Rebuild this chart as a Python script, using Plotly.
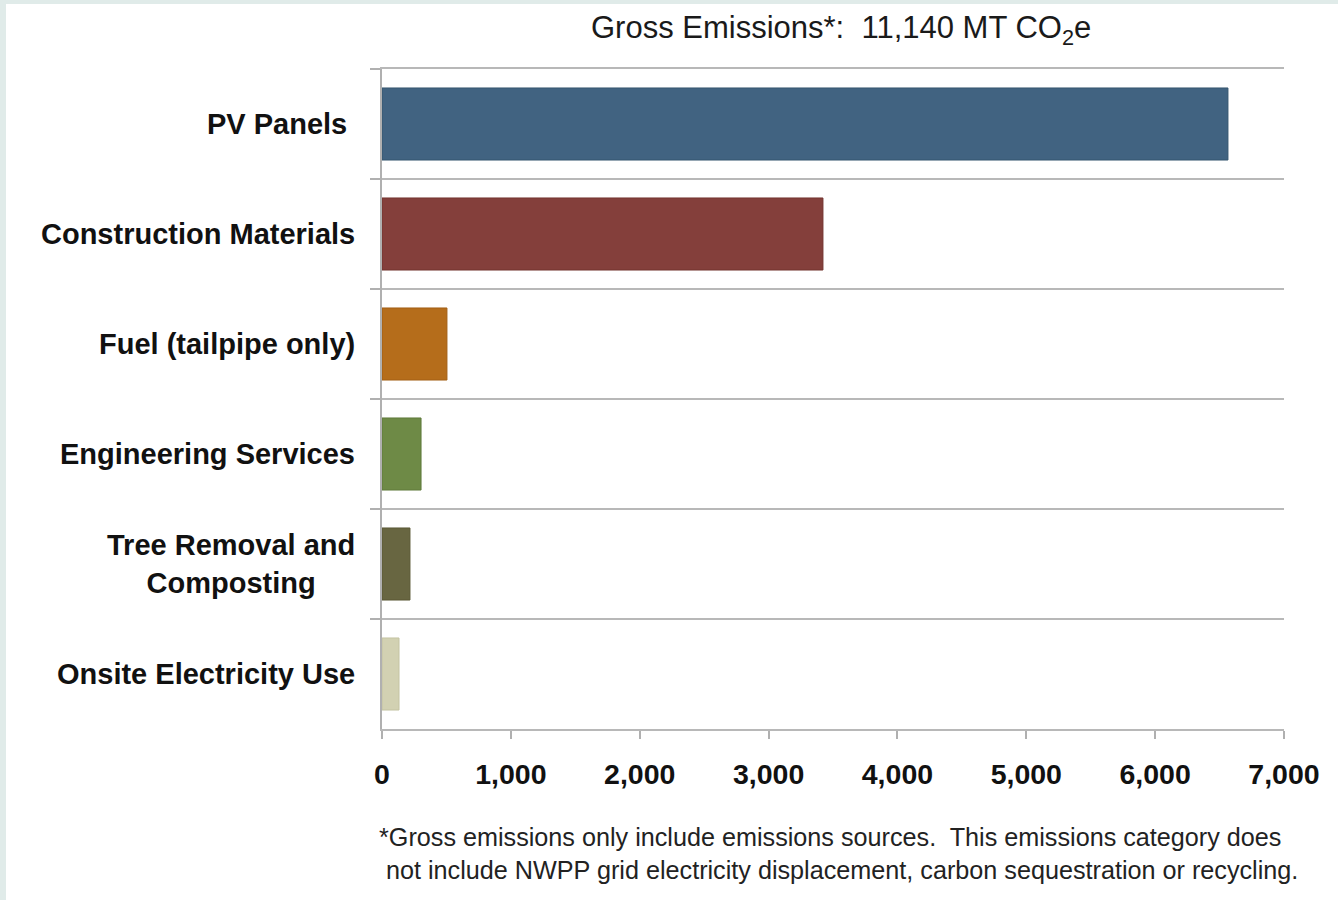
import plotly.graph_objects as go

categories = ["PV Panels", "Construction Materials", "Fuel (tailpipe only)",
              "Engineering Services", "Tree Removal and<br>Composting", "Onsite Electricity Use"]
label_texts = ["PV Panels\u00a0", "Construction Materials", "Fuel (tailpipe only)",
               "Engineering Services", "Tree Removal and<br>Composting", "Onsite Electricity Use"]
values = [6565, 3422, 504, 303, 217, 132]
colors = ["#416381", "#843f3b", "#b56d1b", "#6e8a46", "#686641", "#d2d1b2"]
line_colors = ["#35566f", "#73342f", "#a25f15", "#5f7a3a", "#5a5835", "#c4c3a2"]
x_ticks = [0, 1000, 2000, 3000, 4000, 5000, 6000, 7000]

title_text = "Gross Emissions*:  11,140 MT CO<sub>2</sub>e"
footnote_text = ("*Gross emissions only include emissions sources.  This emissions category does<br>"
                 " not include NWPP grid electricity displacement, carbon sequestration or recycling.")

W, H = 1338, 900
L, R, T, B = 382, 1338 - 1284, 69, 900 - 729
PW, PH = W - L - R, H - T - B

def px_x(p):
    return (p - L) / PW

def px_y(p):
    return (H - B - p) / PH

fig = go.Figure(go.Bar(
    y=categories, x=values, orientation="h",
    marker=dict(color=colors, line=dict(color=line_colors, width=1)),
    hoverinfo="x+y",
))

annotations = []
for cat, lab in zip(categories, label_texts):
    annotations.append(dict(
        x=px_x(357), xref="paper", xanchor="right",
        y=cat, yref="y", yanchor="middle",
        text=lab, showarrow=False, align="center",
        font=dict(family="Liberation Sans, Arial", size=29, color="#111111", weight="bold"),
    ))

annotations.append(dict(
    x=px_x(841), xref="paper", xanchor="center",
    y=px_y(30), yref="paper", yanchor="middle",
    text=title_text, showarrow=False,
    font=dict(family="Liberation Sans, Arial", size=31, color="#1a1a1a"),
))
annotations.append(dict(
    x=px_x(838), xref="paper", xanchor="center",
    y=px_y(853), yref="paper", yanchor="middle",
    text=footnote_text, showarrow=False, align="left",
    font=dict(family="Liberation Sans, Arial", size=25.2, color="#222222"),
))

shapes = [
    dict(type="rect", xref="paper", yref="paper",
         x0=px_x(0), x1=px_x(6), y0=px_y(900), y1=px_y(0),
         fillcolor="#e0ebe9", line=dict(width=0), layer="below"),
    dict(type="rect", xref="paper", yref="paper",
         x0=px_x(0), x1=px_x(1338), y0=px_y(4), y1=px_y(0),
         fillcolor="#e0ebe9", line=dict(width=0), layer="below"),
]

fig.update_layout(
    width=W, height=H,
    margin=dict(l=L, r=R, t=T, b=B, pad=0),
    paper_bgcolor="white", plot_bgcolor="white",
    bargap=0.345, showlegend=False,
    annotations=annotations, shapes=shapes,
)
fig.update_yaxes(
    type="category", categoryorder="array", categoryarray=categories,
    autorange="reversed", tickson="boundaries",
    showticklabels=False, ticks="outside", ticklen=10, tickcolor="#b0b0b0", tickwidth=2,
    showgrid=True, gridcolor="#b8b8b8", gridwidth=2,
    showline=True, linecolor="#b0b0b0", linewidth=2, zeroline=False,
)
fig.update_xaxes(
    range=[0, 7000], tickvals=x_ticks, tickformat=",",
    tickfont=dict(family="Liberation Sans, Arial", size=28.5, color="#111111", weight="bold"),
    ticks="outside", ticklen=8, tickcolor="#b0b0b0", tickwidth=2,
    ticklabelstandoff=11,
    showgrid=False, zeroline=False,
    showline=True, mirror=True, linecolor="#b8b8b8", linewidth=2,
)

fig.write_html("out.html", config={"displayModeBar": False},
               post_script="document.body.style.margin='0';")
